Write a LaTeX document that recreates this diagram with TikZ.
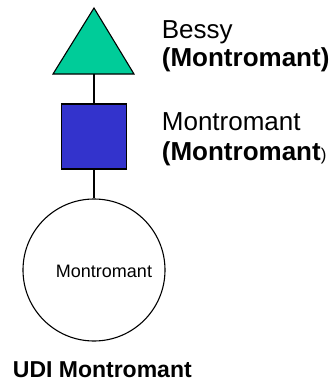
\documentclass[tikz,border=0pt]{standalone}
\usepackage{fontspec}
\setmainfont{Liberation Sans}
\definecolor{trigreen}{RGB}{0,204,153}
\definecolor{sqblue}{RGB}{51,51,204}
\begin{document}
\begin{tikzpicture}[x=1bp,y=-1bp,
  shapeline/.style={draw=black,line width=1.1bp},
  conn/.style={draw=black,line width=1.1bp},
  biglabel/.style={inner sep=0pt,anchor=base west,font=\fontsize{26bp}{30bp}\selectfont},
  circlabel/.style={inner sep=0pt,anchor=base,font=\fontsize{18bp}{21bp}\selectfont},
  bottomlabel/.style={inner sep=0pt,anchor=base west,font=\fontsize{23bp}{27bp}\selectfont\bfseries}]
\useasboundingbox (0,0) rectangle (333,382);
% triangle
\coordinate (tapex) at (94,8);
\coordinate (tleft) at (53,74);
\coordinate (tright) at (134,74);
\coordinate (tbase) at (94,74);
\fill[trigreen] (tapex) -- (tleft) -- (tright) -- cycle;
\draw[shapeline,line join=miter] (tapex) -- (tleft) -- (tright) -- cycle;
% square
\node[shapeline,fill=sqblue,minimum size=65bp,inner sep=0pt] (sq) at (94,136.5) {};
% circle
\node[shapeline,circle,fill=white,minimum size=142bp,inner sep=0pt] (circ) at (94,270) {};
\node[circlabel] (circtext) at (104,277.3) {Montromant};
% connectors
\draw[conn] (tbase) -- (sq.north);
\draw[conn] (sq.south) -- (circ.north);
% labels
\node[biglabel] (l1) at (161.7,38.3) {Bessy};
\node[biglabel] (l2) at (161.7,66.7) {\bfseries(Montromant)};
\node[biglabel] (l3) at (161.7,130.7) {Montromant};
\node[biglabel] (l4) at (161.7,160) {\bfseries(Montromant\fontsize{17bp}{20bp}\mdseries)};
\node[bottomlabel] (udi) at (12.7,377.5) {UDI Montromant};
\end{tikzpicture}
\end{document}
